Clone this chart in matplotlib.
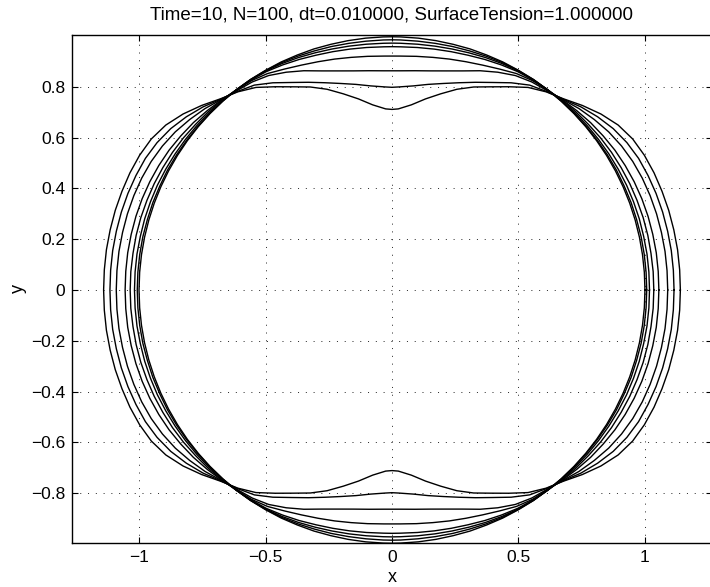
import numpy as np
import matplotlib
matplotlib.use('Agg')
import matplotlib.pyplot as plt

plt.rcParams['font.family'] = ['Liberation Sans', 'DejaVu Sans']

# polar samples of each interface over the first quadrant (degrees),
# the other three quadrants follow from the x/y symmetry of the drop
theta_deg = [0, 4, 8, 12, 16, 20, 24, 28, 32, 36, 40, 44, 48, 52, 56,
             60, 64, 68, 72, 76, 80, 84, 88, 90]

r_step0 = [1.140, 1.140, 1.140, 1.139, 1.138, 1.136, 1.134, 1.130, 1.122, 1.105, 1.078, 1.046,
           1.013, 0.990, 0.962, 0.924, 0.890, 0.862, 0.831, 0.796, 0.764, 0.733, 0.7134, 0.711]
r_step1 = [1.115, 1.115, 1.115, 1.114, 1.113, 1.111, 1.108, 1.104, 1.095, 1.081, 1.061, 1.038,
           1.011, 0.992, 0.973, 0.942, 0.909, 0.882, 0.858, 0.838, 0.822, 0.808, 0.800, 0.798]
r_step2 = [1.090, 1.090, 1.090, 1.089, 1.088, 1.086, 1.083, 1.078, 1.070, 1.059, 1.044, 1.028,
           1.009, 0.996, 0.988, 0.975, 0.954, 0.931, 0.907, 0.889, 0.876, 0.868, 0.8635, 0.863]
r_step3 = [1.055, 1.055, 1.055, 1.054, 1.053, 1.051, 1.048, 1.044, 1.039, 1.032, 1.025, 1.016,
           1.007, 0.999, 0.994, 0.984, 0.968, 0.955, 0.945, 0.937, 0.930, 0.925, 0.9215, 0.921]
r_step4 = [1.035, 1.035, 1.034, 1.034, 1.033, 1.031, 1.029, 1.026, 1.023, 1.019, 1.014, 1.010,
           1.005, 1.000, 0.997, 0.993, 0.986, 0.979, 0.972, 0.967, 0.963, 0.960, 0.958, 0.958]
r_step5 = [1.018, 1.018, 1.018, 1.017, 1.017, 1.016, 1.015, 1.013, 1.011, 1.009, 1.007, 1.005,
           1.002, 1.000, 0.999, 0.996, 0.992, 0.987, 0.982, 0.978, 0.975, 0.973, 0.972, 0.972]
r_step6 = [1.007, 1.007, 1.007, 1.007, 1.006, 1.006, 1.005, 1.005, 1.004, 1.003, 1.002, 1.001,
           1.0005, 1.000, 0.999, 0.998, 0.996, 0.993, 0.990, 0.988, 0.986, 0.985, 0.985, 0.985]
r_step7 = [1.000, 1.000, 1.000, 1.000, 1.000, 1.000, 1.000, 1.000, 1.000, 1.000, 1.000, 1.000,
           1.000, 1.000, 1.000, 0.999, 0.999, 0.998, 0.998, 0.997, 0.997, 0.997, 0.997, 0.997]

steps = [r_step0, r_step1, r_step2, r_step3, r_step4, r_step5, r_step6, r_step7]

xticks = [-1, -0.5, 0, 0.5, 1]
yticks = [-0.8, -0.6, -0.4, -0.2, 0, 0.2, 0.4, 0.6, 0.8]


def closed_curve(r):
    th = np.radians(theta_deg)
    r = np.asarray(r)
    th_all = np.concatenate([th, np.pi - th[::-1], np.pi + th, 2 * np.pi - th[::-1]])
    r_all = np.concatenate([r, r[::-1], r, r[::-1]])
    return r_all * np.cos(th_all), r_all * np.sin(th_all)


fig = plt.figure(figsize=(7.10, 5.87), dpi=100)
ax = fig.add_axes([0.1014, 0.0750, 0.9014, 0.8654])

for r in steps:
    x, y = closed_curve(r)
    ax.plot(x, y, color='black', lw=1.0)

ax.set_xlim(-1.265, 1.265)
ax.set_ylim(-0.996, 1.004)
ax.set_xticks(xticks)
ax.set_yticks(yticks)
ax.set_xticklabels(['\u22121', '\u22120.5', '0', '0.5', '1'])
ax.set_yticklabels(['\u22120.8', '\u22120.6', '\u22120.4', '\u22120.2', '0', '0.2', '0.4', '0.6', '0.8'])
ax.tick_params(direction='in', top=True, right=True, length=4, width=0.8,
               labelsize=12.5, pad=5)
ax.grid(True, color='#222222', linestyle=(0, (1, 7)), linewidth=0.7)
for s in ax.spines.values():
    s.set_linewidth(1.0)

ax.set_title('Time=10, N=100, dt=0.010000, SurfaceTension=1.000000', fontsize=13.5, pad=11)
ax.set_xlabel('x', fontsize=13, labelpad=3)
ax.set_ylabel('y', fontsize=13, labelpad=3)

fig.savefig('out.png', dpi=100)
